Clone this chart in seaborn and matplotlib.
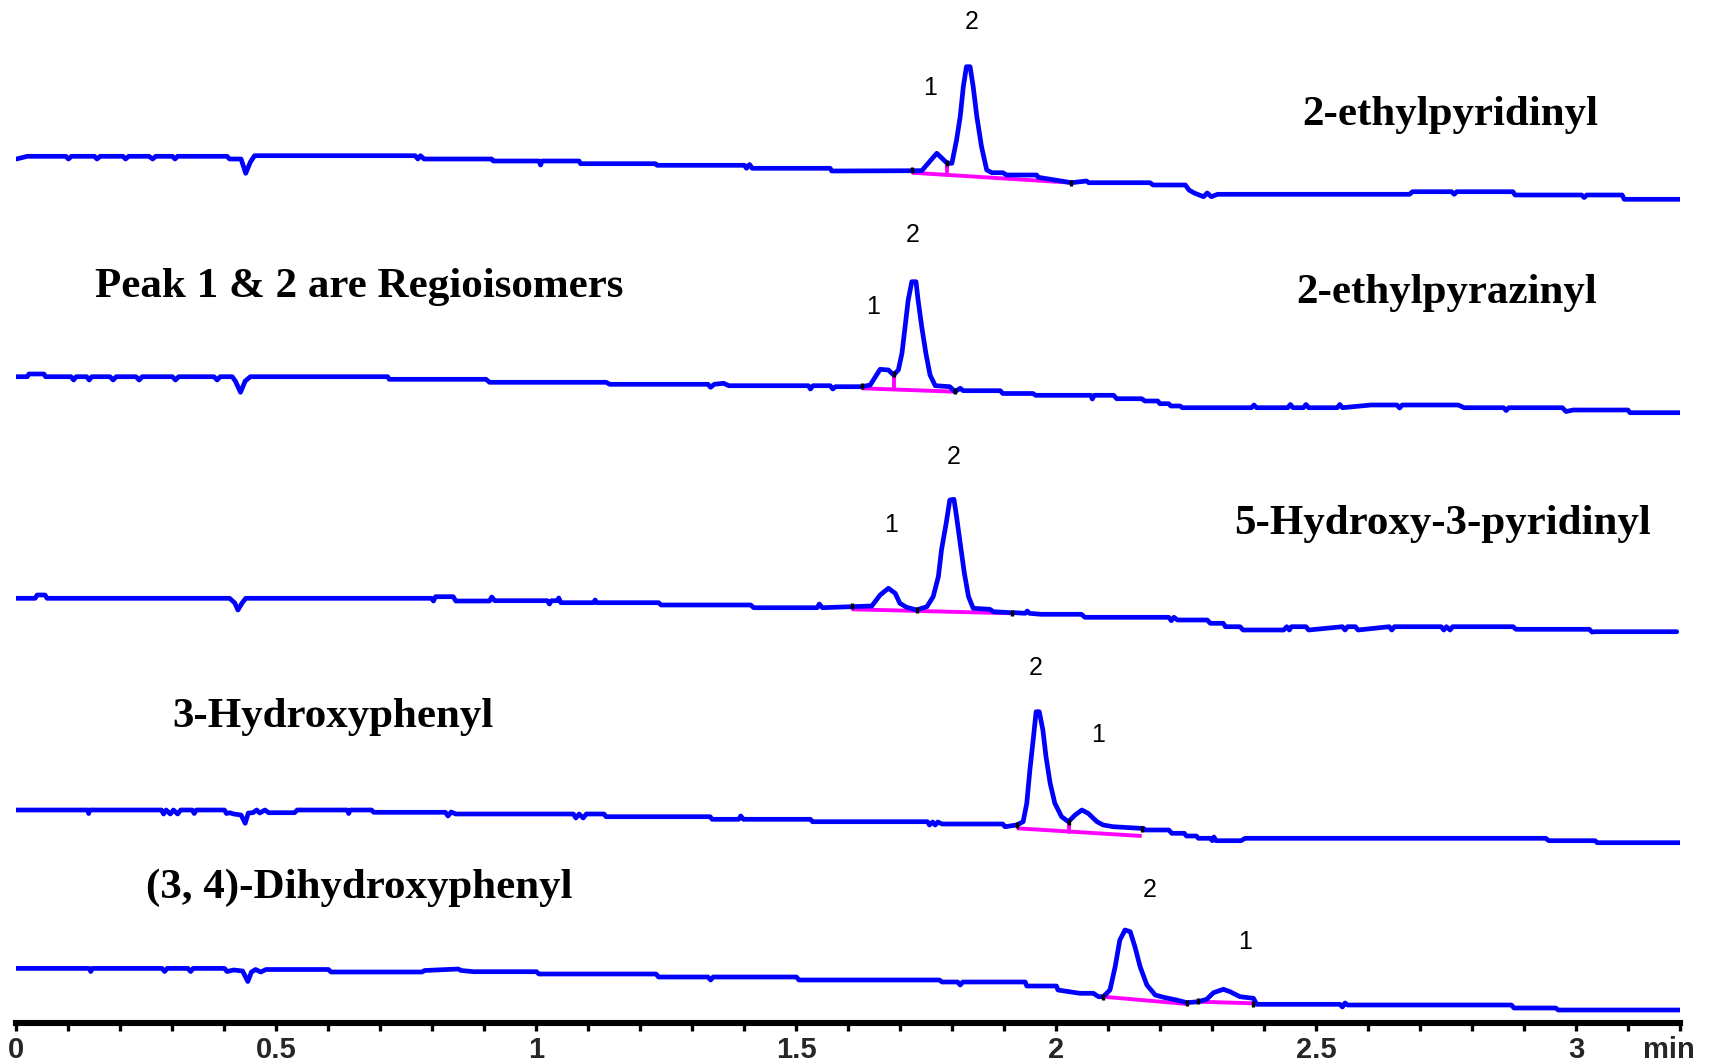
import matplotlib
matplotlib.use('Agg')
import matplotlib.pyplot as plt
import seaborn as sns
import pandas as pd
from matplotlib.ticker import MultipleLocator

# ---------------- data (time in min, detector response in display units) ----------------
trace_names = ["2-ethylpyridinyl", "2-ethylpyrazinyl", "5-Hydroxy-3-pyridinyl",
               "3-Hydroxyphenyl", "(3, 4)-Dihydroxyphenyl"]

t1 = [0.000, 0.021, 0.095, 0.100, 0.106, 0.150, 0.155, 0.161, 0.205, 0.210, 0.216, 0.255, 0.262, 0.268,
      0.300, 0.305, 0.310, 0.405, 0.410, 0.432, 0.441, 0.450, 0.458, 0.767, 0.772, 0.777, 0.784, 0.914,
      0.917, 1.005, 1.008, 1.011, 1.082, 1.085, 1.229, 1.232, 1.400, 1.404, 1.410, 1.415, 1.565, 1.568,
      1.741, 1.770, 1.790, 1.799, 1.808, 1.815, 1.821, 1.827, 1.834, 1.840, 1.847, 1.856, 1.866, 1.876,
      1.897, 1.904, 1.962, 1.965, 2.029, 2.058, 2.062, 2.180, 2.186, 2.248, 2.255, 2.265, 2.283, 2.290,
      2.298, 2.310, 2.679, 2.685, 2.760, 2.765, 2.770, 2.878, 2.882, 3.010, 3.015, 3.020, 3.088, 3.092, 3.204]
y1 = [864, 866.7, 866.7, 864, 866.7, 866.7, 864, 866.7, 866.7, 864, 866.7, 866.7, 864, 866.7,
      866.7, 864, 866.7, 866.7, 864, 864, 849.7, 861, 867.3, 867.3, 864, 867.3, 864, 864,
      862, 862, 858, 862, 862, 859.3, 859.3, 857.7, 857.7, 854.7, 858.5, 854.7, 854.7, 852,
      852.3, 869.7, 859.7, 859.7, 883, 906.3, 936.3, 956.3, 956.3, 936.3, 906.3, 876.3, 853, 850.3,
      850.3, 848, 848, 845.7, 840.3, 842, 840.3, 840.3, 838, 838, 833, 830, 826.3, 830,
      826.3, 828.7, 828.7, 831.3, 831.3, 828.7, 831.3, 831.3, 828, 828, 825.5, 828, 828, 823.7, 823.7]

t2 = [0.000, 0.021, 0.024, 0.053, 0.056, 0.105, 0.110, 0.115, 0.135, 0.140, 0.145, 0.180, 0.186, 0.192,
      0.230, 0.236, 0.242, 0.300, 0.306, 0.312, 0.380, 0.386, 0.392, 0.415, 0.421, 0.431, 0.440, 0.450,
      0.714, 0.717, 0.903, 0.910, 1.134, 1.141, 1.330, 1.335, 1.342, 1.360, 1.370, 1.523, 1.527, 1.532,
      1.565, 1.570, 1.575, 1.626, 1.642, 1.661, 1.677, 1.687, 1.696, 1.703, 1.709, 1.715, 1.722, 1.730,
      1.734, 1.741, 1.749, 1.757, 1.767, 1.795, 1.805, 1.815, 1.821, 1.892, 1.897, 1.955, 1.960, 2.066,
      2.069, 2.073, 2.110, 2.116, 2.164, 2.170, 2.195, 2.199, 2.216, 2.220, 2.238, 2.242, 2.375, 2.380,
      2.385, 2.445, 2.450, 2.455, 2.475, 2.480, 2.485, 2.540, 2.545, 2.550, 2.605, 2.655, 2.660, 2.665,
      2.773, 2.784, 2.860, 2.865, 2.870, 2.973, 2.980, 2.994, 3.099, 3.103, 3.204]
y2 = [646.3, 646.3, 649, 649, 646.3, 646.3, 643, 646.3, 646.3, 643, 646.3, 646.3, 643, 646.3,
      646.3, 643, 646.3, 646.3, 643, 646.3, 646.3, 643, 646.3, 646.3, 642, 630.7, 642, 646.3,
      646.3, 643.7, 643.7, 640.7, 640.7, 638.7, 638.7, 635.7, 638.7, 639.7, 637.3, 637.3, 634, 637.3,
      637.3, 634, 636.3, 636.3, 638, 653.7, 653, 648, 653, 669.7, 696.3, 723, 741.3, 741.3,
      723, 696.3, 669.7, 648, 637.3, 636.3, 631.3, 634.7, 632.3, 632.3, 629.5, 629.5, 627.7, 627.7,
      624, 627.7, 627.7, 624.3, 624.3, 622, 622, 619.3, 619.3, 617, 617, 615.3, 615.3, 618,
      615.3, 615.3, 618.5, 615.3, 615.3, 618.5, 615.3, 615.3, 618.5, 615.3, 618, 618, 615, 618,
      618, 615.3, 615.3, 612.5, 615.3, 615.3, 611.5, 613, 613, 610.3, 610.3]

t3 = [0.000, 0.036, 0.040, 0.055, 0.059, 0.410, 0.420, 0.426, 0.434, 0.441, 0.798, 0.802, 0.806, 0.840,
      0.845, 0.910, 0.914, 0.920, 1.021, 1.025, 1.029, 1.040, 1.043, 1.047, 1.110, 1.113, 1.116, 1.235,
      1.240, 1.412, 1.418, 1.540, 1.544, 1.550, 1.606, 1.645, 1.661, 1.677, 1.690, 1.699, 1.712, 1.731,
      1.751, 1.763, 1.773, 1.779, 1.788, 1.795, 1.803, 1.808, 1.815, 1.823, 1.831, 1.840, 1.872, 1.879,
      1.914, 1.920, 1.940, 1.944, 1.948, 1.970, 2.048, 2.055, 2.216, 2.221, 2.226, 2.233, 2.290, 2.296,
      2.321, 2.325, 2.353, 2.359, 2.437, 2.443, 2.448, 2.452, 2.480, 2.485, 2.550, 2.555, 2.560, 2.575,
      2.580, 2.640, 2.645, 2.650, 2.740, 2.745, 2.750, 2.757, 2.762, 2.878, 2.884, 3.025, 3.030, 3.036, 3.193]
y3 = [424.7, 424.7, 428, 428, 424.7, 424.7, 420, 413, 420, 424.7, 424.7, 422, 426.3, 426.3,
      422, 422, 426, 422.3, 422.3, 419, 422.3, 422.3, 425, 420.3, 420.3, 423, 420.3, 420.3,
      418, 418, 415.3, 415.3, 419, 415.3, 416.3, 417, 428, 434.7, 429.7, 419.7, 415.7, 413,
      416.3, 426.3, 446.3, 473, 499.7, 523, 523.7, 506.3, 479.7, 449.7, 426.3, 414.7, 413.7, 411.3,
      410.3, 410.3, 409.7, 412, 409.7, 408.7, 408.7, 405.7, 405.7, 402.3, 405.7, 403, 403, 399.7,
      399.7, 396.3, 396.3, 393, 393, 396.3, 393, 396.3, 396.3, 393, 396.3, 393, 396.3, 396.3,
      393, 396.3, 393, 396.3, 396.3, 393, 396.3, 393, 396.3, 396.3, 393.7, 393.7, 391, 391.3, 391.3]

t4 = [0.000, 0.137, 0.139, 0.141, 0.279, 0.283, 0.288, 0.296, 0.302, 0.310, 0.316, 0.338, 0.342, 0.346,
      0.400, 0.404, 0.410, 0.418, 0.432, 0.440, 0.446, 0.455, 0.462, 0.468, 0.478, 0.485, 0.535, 0.540,
      0.636, 0.639, 0.642, 0.683, 0.687, 0.825, 0.830, 0.836, 0.845, 1.071, 1.076, 1.082, 1.090, 1.096,
      1.130, 1.134, 1.334, 1.338, 1.389, 1.393, 1.398, 1.527, 1.531, 1.752, 1.756, 1.762, 1.767, 1.772,
      1.780, 1.897, 1.901, 1.924, 1.936, 1.943, 1.949, 1.956, 1.961, 1.967, 1.974, 1.980, 1.988, 1.997,
      2.010, 2.023, 2.036, 2.049, 2.061, 2.078, 2.090, 2.109, 2.161, 2.167, 2.170, 2.216, 2.222, 2.246,
      2.250, 2.269, 2.273, 2.296, 2.300, 2.303, 2.307, 2.355, 2.363, 2.941, 2.947, 3.036, 3.040, 3.200]
y4 = [213, 213, 209.5, 213, 213, 209, 213, 209, 213, 209, 213, 213, 209.5, 213,
      213, 209.5, 210.3, 209, 208, 199.7, 210, 210.3, 213, 210, 213, 210.3, 210.3, 213,
      213, 209.5, 213, 213, 210.7, 210.7, 207, 211, 209, 209, 205, 209, 205, 209,
      209, 206.3, 206.3, 203.7, 203.7, 207, 203.7, 203.7, 201.3, 201.3, 198, 201, 198, 201,
      199, 199, 196.3, 198, 201.3, 219.7, 253, 286.3, 311.3, 311.3, 293, 266.3, 239.7, 219.7,
      206.3, 201.3, 208, 213, 209.7, 201.3, 198, 196.3, 194.7, 194.7, 193, 193, 189.7, 189.7,
      187, 187, 184.7, 184.7, 182.3, 186, 182.3, 182.3, 184.7, 184.7, 182.3, 182.3, 180.3, 180.3]

t5 = [0.000, 0.140, 0.143, 0.146, 0.280, 0.285, 0.290, 0.330, 0.335, 0.340, 0.400, 0.405, 0.418, 0.435,
      0.445, 0.452, 0.460, 0.470, 0.480, 0.600, 0.605, 0.780, 0.785, 0.850, 0.855, 0.880, 1.000, 1.005,
      1.230, 1.235, 1.330, 1.335, 1.340, 1.500, 1.505, 1.775, 1.780, 1.810, 1.815, 1.820, 1.940, 1.943,
      2.000, 2.003, 2.045, 2.071, 2.081, 2.090, 2.103, 2.113, 2.122, 2.132, 2.142, 2.151, 2.161, 2.174,
      2.190, 2.206, 2.231, 2.251, 2.273, 2.289, 2.302, 2.321, 2.334, 2.353, 2.379, 2.385, 2.545, 2.550,
      2.555, 2.560, 2.875, 2.880, 2.960, 2.965, 3.204]
y5 = [54.6, 54.6, 51.5, 54.6, 54.6, 51.5, 54.6, 54.6, 51.5, 54.6, 54.6, 51.5, 53, 52,
      41.5, 51, 53.5, 51, 53.5, 53.5, 51, 51, 52.5, 54, 52.5, 51.3, 51.3, 49,
      49, 46, 46, 43, 46, 46, 43, 43, 41, 41, 38, 41, 41, 37,
      37, 33, 29.7, 29.7, 26.3, 26.3, 33, 56.3, 83, 93, 91.3, 76.3, 56.3, 38,
      28, 25.7, 23, 20.3, 21.3, 23.7, 30.3, 33.7, 31.3, 26.3, 24.7, 18.7, 18.7, 16,
      20, 18, 18, 15, 15, 13, 13]

trace_times = [t1, t2, t3, t4, t5]
trace_values = [y1, y2, y3, y4, y5]

# integration baselines (start/end time, start/end response) and peak drop lines
base_t = [[1.722, 2.029], [1.626, 1.805], [1.606, 1.914], [1.924, 2.164], [2.090, 2.251], [2.273, 2.379]]
base_y = [[850.3, 840.3], [634.7, 631.3], [413.7, 409.7], [194.7, 187.0], [26.3, 19.0], [21.3, 19.7]]
drop_t = [1.790, 1.687, 2.024]
drop_top = [859.7, 648.0, 199.7]
drop_bot = [848.1, 633.6, 191.5]
# integration event marks
event_t = [1.722, 1.790, 2.029, 1.626, 1.687, 1.805, 1.606, 1.731, 1.914, 1.924, 2.024, 2.164,
           2.090, 2.251, 2.273, 2.379]
event_y = [853, 860, 840, 637, 649, 632, 417, 413, 410, 198, 201, 194, 26.3, 20, 22, 19]

# peak numbers
peak_labels = ["2", "1", "2", "1", "2", "1", "2", "1", "2", "1"]
peak_label_t = [1.837, 1.758, 1.724, 1.648, 1.802, 1.683, 1.961, 2.081, 2.179, 2.363]
peak_label_y = [1001, 935, 788, 716, 566, 498, 355, 288, 133, 81]

# compound labels
comp_labels = ["2-ethylpyridinyl", "Peak 1 & 2 are Regioisomers", "2-ethylpyrazinyl",
               "5-Hydroxy-3-pyridinyl", "3-Hydroxyphenyl", "(3, 4)-Dihydroxyphenyl"]
comp_t = [2.757, 0.659, 2.750, 2.742, 0.609, 0.659]
comp_y = [908, 736, 730, 499, 306, 135]

x_major = [0, 0.5, 1, 1.5, 2, 2.5, 3]
x_major_labels = ["0", "0.5", "1", "1.5", "2", "2.5", "3"]
x_unit = "min"

# ---------------- plotting ----------------
sns.set_theme(style='white')
plt.rcParams['font.family'] = ['Liberation Sans', 'DejaVu Sans']

W, H = 1712, 1061
fig = plt.figure(figsize=(W / 100, H / 100), dpi=100)
ax = fig.add_axes([16.4 / W, 38 / H, 3.2 * 520 / W, 1023 / H])

for name, tt, vv in zip(trace_names, trace_times, trace_values):
    df = pd.DataFrame({'time': tt, 'response': vv})
    sns.lineplot(data=df, x='time', y='response', ax=ax, color='#0000FF', lw=3.4,
                 sort=False, estimator=None, zorder=3)

for bt, by in zip(base_t, base_y):
    ax.plot(bt, by, color='#FF00FF', lw=2.8, zorder=2, solid_capstyle='butt')
for dt, d0, d1 in zip(drop_t, drop_top, drop_bot):
    ax.plot([dt, dt], [d0, d1], color='#FF00FF', lw=2.8, zorder=2)
ax.plot(event_t, event_y, ls='none', marker='|', ms=5, mew=2.4, color='black', zorder=4)

for lab, tx, ty in zip(peak_labels, peak_label_t, peak_label_y):
    ax.text(tx, ty, lab, ha='center', va='center', fontsize=18,
            family=['Liberation Sans', 'DejaVu Sans'], color='black')

for lab, tx, ty in zip(comp_labels, comp_t, comp_y):
    ax.text(tx, ty, lab, ha='center', va='center', fontsize=31, fontweight='bold',
            family=['Liberation Serif', 'DejaVu Serif'], color='black')

ax.set_xlim(0, 3.2)
ax.set_ylim(0, 1023)
ax.set_xlabel('')
ax.set_ylabel('')
ax.set_yticks([])
for s in ['top', 'right', 'left']:
    ax.spines[s].set_visible(False)
ax.spines['bottom'].set_linewidth(4.4)
ax.spines['bottom'].set_color('black')

tick_family = ['Liberation Sans Narrow', 'Liberation Sans', 'DejaVu Sans']
ax.set_xticks(x_major, labels=x_major_labels, fontsize=21, fontweight='bold', family=tick_family)
ax.xaxis.set_minor_locator(MultipleLocator(0.1))
ax.tick_params(axis='x', which='both', direction='out', length=5.5, width=2.4, color='black',
               bottom=True, pad=3.5)
ax.annotate(x_unit, xy=(3.178, 0), xycoords=('data', 'axes fraction'), xytext=(0, -9.0),
            textcoords='offset points', ha='center', va='top', fontsize=21, fontweight='bold',
            family=tick_family, annotation_clip=False)

fig.savefig('out.png', dpi=100)
